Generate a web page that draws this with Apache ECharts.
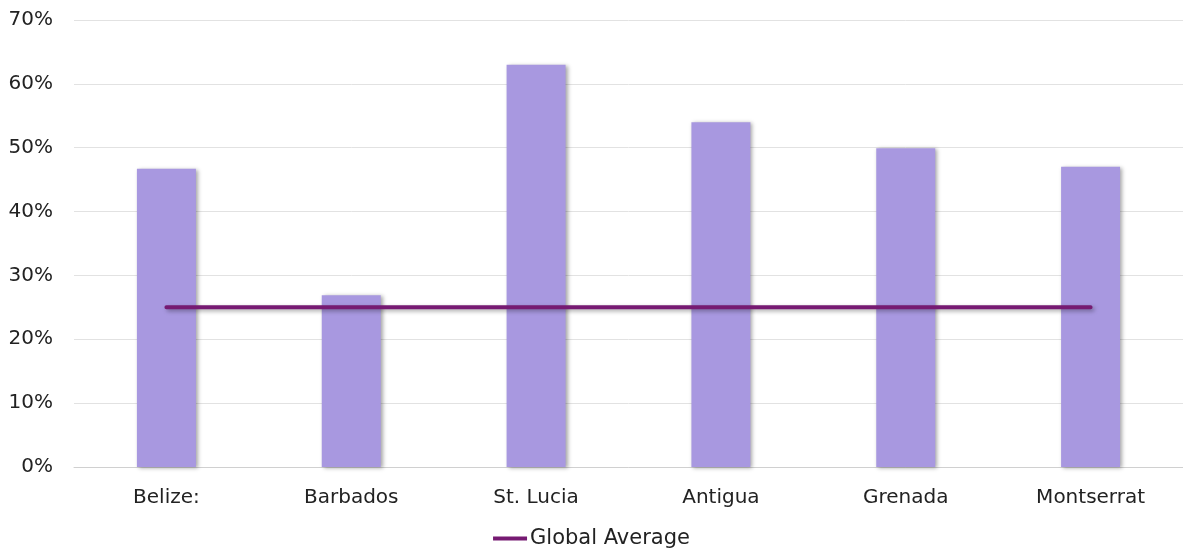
<!DOCTYPE html>
<html>
<head>
<meta charset="utf-8">
<script src="https://cdn.jsdelivr.net/npm/echarts@6/dist/echarts.min.js"></script>
<style>
  html, body { margin: 0; padding: 0; background: #fff; }
  #chart { width: 1183px; height: 554px; }
</style>
</head>
<body>
<div id="chart"></div>
<script>
// values (percent)
var countries = ['Belize:', 'Barbados', 'St. Lucia', 'Antigua', 'Grenada', 'Montserrat'];
var shares = [46.7, 26.9, 63, 54, 49.9, 47];
var globalAvg = [25, 25, 25, 25, 25, 25];
var yTicks = [0, 10, 20, 30, 40, 50, 60, 70];

var myChart = echarts.init(document.getElementById('chart'));
var font = '"DejaVu Sans", sans-serif';

myChart.setOption({
    animation: false,
    textStyle: { fontFamily: font },
    grid: { left: 74, right: -4, top: 20, bottom: 87 },
    legend: {
        bottom: 0,
        left: 'center',
        data: ['Global Average'],
        icon: 'rect',
        itemWidth: 34,
        itemHeight: 4,
        itemGap: 4,
        textStyle: { fontSize: 21, color: '#222', fontFamily: font, padding: [0, 0, 0, -2] }
    },
    xAxis: {
        type: 'category',
        data: countries,
        axisTick: { show: false },
        axisLine: { lineStyle: { color: '#d0d0d0', width: 1 } },
        axisLabel: { fontSize: 20, color: '#222', margin: 21 }
    },
    yAxis: {
        type: 'value',
        min: yTicks[0],
        max: yTicks[yTicks.length - 1],
        interval: 10,
        axisLine: { show: false },
        axisTick: { show: false },
        splitLine: { lineStyle: { color: '#e2e2e2', width: 1 } },
        axisLabel: { fontSize: 20, color: '#222', margin: 21, formatter: '{value}%' }
    },
    series: [
        {
            name: 'Share',
            type: 'bar',
            data: shares,
            barWidth: 59,
            itemStyle: {
                color: '#a898e0',
                shadowColor: 'rgba(0,0,0,0.35)',
                shadowBlur: 4,
                shadowOffsetX: 2,
                shadowOffsetY: 1
            }
        },
        {
            name: 'Global Average',
            type: 'line',
            data: globalAvg,
            symbol: 'none',
            lineStyle: {
                color: '#761a72',
                width: 4,
                cap: 'round',
                shadowColor: 'rgba(0,0,0,0.35)',
                shadowBlur: 4,
                shadowOffsetX: 2,
                shadowOffsetY: 2
            },
            itemStyle: { color: '#761a72' },
            z: 3
        }
    ]
});
</script>
</body>
</html>
